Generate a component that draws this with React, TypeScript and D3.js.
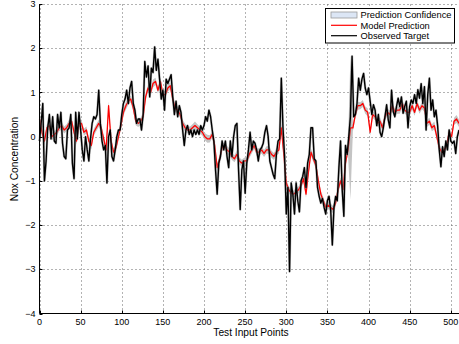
import React from 'react';
import * as d3 from 'd3';

const W = 459;
const H = 344;

const xTicks = [0, 50, 100, 150, 200, 250, 300, 350, 400, 450, 500];
const yTicks = [-4, -3, -2, -1, 0, 1, 2, 3];
const xTitle = 'Test Input Points';
const yTitle = 'Nox Concentration';
const legendLabels = ['Prediction Confidence', 'Model Prediction', 'Observed Target'];

// Observed target, sampled every 2 test points (0..510)
const OBS_STEP = 2;
const observed = [
  -0.1, 0.3, 0.75, -1.0, -0.55, 0.2, 0.5, -0.05, 0.45, -0.1,
  -0.15, 0.5, 0.2, 0.55, -0.15, -0.45, -0.5, 0.15, 0.2, 0.5,
  -0.6, -0.95, 0.55, -0.05, 0.55, 0.15, -0.3, -0.55, 0.0, -0.3,
  -0.55, -0.05, 0.3, 0.45, 0.4, 0.5, 1.05, 0.3, -0.1, -0.3,
  -0.2, -1.05, 0.0, 0.15, -0.45, -0.55, -0.3, 0.0, 0.15, 0.15,
  0.5, 0.75, 0.85, 1.05, 0.75, 1.1, 1.25, 0.75, 0.6, 0.3,
  0.4, 0.4, 0.15, 0.5, 1.7, 1.35, 1.6, 0.9, 1.55, 1.45,
  2.03, 1.5, 1.75, 1.3, 0.85, 1.05, 0.6, 1.3, 1.2, 1.3,
  1.4, 0.9, 0.5, 0.8, 0.45, 0.7, 0.55, 0.15, -0.2, 0.15,
  0.25, 0.05, 0.15, 0.0, 0.15, 0.05, 0.15, 0.05, 0.25, 0.15,
  0.25, 0.45, 0.35, 0.6, 0.45, 0.15, -0.1, -0.75, -1.3, -0.6,
  -0.45, -0.1, -0.3, -0.1, -0.45, -0.7, -0.1, -0.45, 0.0, 0.25,
  0.3, -0.75, -1.65, -0.75, -0.55, -1.28, -0.6, -0.3, 0.1, -0.3,
  -0.1, -0.15, -0.3, -0.55, -0.3, -0.25, -0.15, 0.1, 0.25, 0.0,
  -0.55, -0.7, -0.85, -0.95, -0.4, -0.1, -0.05, 1.32, 0.2, -0.45,
  -1.75, -1.15, -3.05, -1.05, -1.3, -1.75, -1.05, -1.45, -1.7, -1.0,
  -0.9, -0.7, -1.15, -0.6, -0.4, 0.2, 0.2, -0.5, -0.55, -1.15,
  -1.35, -1.5, -1.4, -1.6, -1.75, -1.45, -1.35, -1.65, -2.45, -1.6,
  -1.35, -1.45, -0.7, -0.1, -1.2, -1.8, -0.2, -0.4, 0.0, 0.45,
  1.82, 0.45, 0.5, 0.75, 1.32, 1.05, 1.3, 1.43, 1.1, 0.95,
  1.1, 0.8, 0.5, 0.72, 0.6, 0.25, 0.5, 0.1, 0.0, 0.2,
  0.45, 0.72, 0.38, 0.2, 1.05, 0.57, 0.45, 0.68, 0.87, 0.68,
  0.9, 0.53, 0.68, 0.8, 0.2, 0.68, 0.83, 0.75, 0.95, 0.75,
  1.06, 0.87, 1.2, 0.75, 1.13, 0.15, 0.95, 1.32, 0.6, 0.83,
  0.45, 0.6, 0.25, -0.3, -0.68, -0.23, -0.45, -0.1, -0.3, 0.15,
  -0.1, -0.15, -0.1, -0.38, 0.0, 0.15,
];

// Model prediction, sampled every 3 test points (0..510)
const PRED_STEP = 3;
const predicted = [
  0.4, 0.1, -0.1, 0.2, 0.25, 0.0, 0.05, 0.1, 0.2, 0.25,
  0.15, 0.2, 0.3, 0.35, 0.1, -0.1, 0.3, 0.3, 0.1, 0.15,
  -0.1, -0.2, 0.1, 0.2, 0.3, 0.2, -0.05, -0.3, 0.7, -0.1,
  -0.35, -0.25, 0.0, 0.25, 0.55, 0.7, 0.8, 0.85, 0.65, 0.35,
  0.3, 0.35, 0.45, 0.9, 1.1, 1.0, 1.2, 1.25, 1.05, 1.25,
  0.95, 0.95, 1.1, 1.15, 0.85, 0.65, 0.6, 0.5, 0.3, 0.2,
  0.15, 0.15, 0.2, 0.25, 0.2, 0.15, 0.1, 0.0, -0.05, -0.05,
  0.05, -0.2, -0.7, -0.5, -0.25, -0.2, -0.3, -0.35, -0.45, -0.5,
  -0.4, -0.55, -0.6, -0.55, -0.55, -0.4, -0.3, -0.2, -0.35, -0.35,
  -0.3, -0.38, -0.3, -0.3, -0.4, -0.45, -0.35, -0.3, 0.2, -0.4,
  -1.05, -1.2, -1.28, -1.3, -1.25, -1.2, -1.1, -0.95, -1.3, -0.8,
  -0.35, -0.5, -0.65, -1.0, -1.3, -1.45, -1.6, -1.55, -1.6, -1.65,
  -1.5, -1.2, -1.0, -1.2, -0.6, -0.3, 0.2, 0.2, 0.5, 0.7,
  0.7, 0.75, 0.6, 0.55, 0.1, 0.5, 0.45, 0.3, 0.35, 0.2,
  0.45, 0.55, 0.5, 0.7, 0.55, 0.6, 0.6, 0.75, 0.6, 0.55,
  0.55, 0.7, 0.55, 0.75, 0.6, 0.7, 0.65, 0.3, 0.35, 0.2,
  0.25, 0.0, -0.25, -0.35, -0.3, -0.2, 0.1, 0.0, 0.35, 0.4,
  0.3,
];

// Half-width of the prediction confidence band, same sampling as predicted
const confidence = [
  0.08, 0.08, 0.09, 0.08, 0.08, 0.09, 0.08, 0.08, 0.08, 0.09,
  0.08, 0.08, 0.08, 0.09, 0.08, 0.08, 0.08, 0.09, 0.08, 0.08,
  0.08, 0.09, 0.08, 0.08, 0.08, 0.08, 0.09, 0.08, 0.1, 0.08,
  0.08, 0.08, 0.09, 0.08, 0.08, 0.09, 0.08, 0.08, 0.08, 0.09,
  0.08, 0.08, 0.09, 0.08, 0.08, 0.08, 0.09, 0.08, 0.08, 0.08,
  0.09, 0.08, 0.08, 0.08, 0.09, 0.08, 0.08, 0.08, 0.08, 0.09,
  0.08, 0.08, 0.08, 0.09, 0.08, 0.08, 0.08, 0.08, 0.09, 0.08,
  0.08, 0.08, 0.09, 0.08, 0.08, 0.08, 0.09, 0.08, 0.08, 0.08,
  0.09, 0.08, 0.08, 0.08, 0.08, 0.09, 0.08, 0.08, 0.08, 0.09,
  0.08, 0.08, 0.08, 0.09, 0.08, 0.08, 0.08, 0.08, 0.1, 0.08,
  0.09, 0.08, 0.08, 0.08, 0.09, 0.08, 0.08, 0.08, 0.08, 0.09,
  0.08, 0.08, 0.08, 0.09, 0.08, 0.08, 0.08, 0.09, 0.08, 0.08,
  0.08, 0.09, 0.08, 0.08, 0.08, 0.09, 1.63, 0.08, 0.08, 0.09,
  0.08, 0.08, 0.08, 0.09, 0.08, 0.08, 0.08, 0.08, 0.09, 0.08,
  0.08, 0.08, 0.09, 0.08, 0.08, 0.08, 0.08, 0.09, 0.08, 0.08,
  0.08, 0.09, 0.08, 0.08, 0.08, 0.08, 0.09, 0.08, 0.08, 0.08,
  0.09, 0.08, 0.08, 0.08, 0.08, 0.09, 0.08, 0.08, 0.08, 0.09,
  0.08,
];

const FONT = '"Liberation Sans", Arial, Helvetica, sans-serif';

export default function App() {
  const x = d3.scaleLinear().domain([0, 510]).range([39.5, 459]);
  const y = d3.scaleLinear().domain([-4, 3]).range([313.5, 4]);

  const obsLine = d3
    .line<number>()
    .x((_, i) => x(i * OBS_STEP))
    .y((d) => y(d));
  const predLine = d3
    .line<number>()
    .x((_, i) => x(i * PRED_STEP))
    .y((d) => y(d));
  const band = d3
    .area<number>()
    .x((_, i) => x(i * PRED_STEP))
    .y0((d, i) => y(d - confidence[i]))
    .y1((d, i) => y(d + confidence[i]));

  const x0 = x(0);
  const yBottom = y(-4);
  const xRight = x(510);

  const legX = 325.5;
  const legY = 8.5;
  const legW = 129;
  const legH = 34.5;
  const rows = [15, 25.3, 35.7];

  return (
    <svg
      width={W}
      height={H}
      viewBox={`0 0 ${W} ${H}`}
      style={{ position: 'absolute', left: 0, top: 0, background: '#fff' }}
      fontFamily={FONT}
    >
      <rect x={0} y={0} width={W} height={H} fill="#fff" />
      {/* grid */}
      <g stroke="#666" strokeWidth={1} strokeDasharray="1,3">
        {xTicks.map((t) => (
          <line key={'gx' + t} x1={Math.round(x(t)) + 0.5} x2={Math.round(x(t)) + 0.5} y1={yBottom} y2={y(3)} />
        ))}
        {yTicks.map((t) => (
          <line key={'gy' + t} x1={x0} x2={xRight} y1={Math.round(y(t)) + 0.5 - (t === -4 ? 1 : 0)} y2={Math.round(y(t)) + 0.5 - (t === -4 ? 1 : 0)} />
        ))}
      </g>
      {/* confidence band */}
      <path d={band(predicted) || ''} fill="#c4c4c4" stroke="none" />
      {/* prediction */}
      <path d={predLine(predicted) || ''} fill="none" stroke="#ff0000" strokeWidth={1.3} strokeLinejoin="round" />
      {/* observed */}
      <path d={obsLine(observed) || ''} fill="none" stroke="#888" strokeOpacity={0.5} strokeWidth={2.4} strokeLinejoin="round" />
      <path d={obsLine(observed) || ''} fill="none" stroke="#000" strokeWidth={1.4} strokeLinejoin="round" />
      {/* axes */}
      <line x1={x0} x2={x0} y1={y(3)} y2={yBottom} stroke="#000" strokeWidth={1} />
      <line x1={x0} x2={xRight} y1={yBottom} y2={yBottom} stroke="#000" strokeWidth={1} />
      {xTicks.map((t) => (
        <g key={'tx' + t}>
          <line x1={Math.round(x(t)) + 0.5} x2={Math.round(x(t)) + 0.5} y1={yBottom} y2={yBottom - 3} stroke="#000" />
          <text x={x(t)} y={325} fontSize={9} textAnchor="middle" fill="#000">
            {t}
          </text>
        </g>
      ))}
      {yTicks.map((t) => (
        <g key={'ty' + t}>
          <line x1={x0} x2={x0 + 3} y1={Math.round(y(t)) + 0.5} y2={Math.round(y(t)) + 0.5} stroke="#000" />
          <text x={35.5} y={y(t) + 3.2} fontSize={9} textAnchor="end" fill="#000">
            {t < 0 ? '\u2212' + Math.abs(t) : String(t)}
          </text>
        </g>
      ))}
      <text x={251} y={336} fontSize={10.2} textAnchor="middle" fill="#000">
        {xTitle}
      </text>
      <text transform="translate(17.5,159) rotate(-90)" fontSize={10.2} textAnchor="middle" fill="#000">
        {yTitle}
      </text>
      {/* legend */}
      <rect x={legX} y={legY} width={legW} height={legH} fill="#fff" stroke="#000" strokeWidth={1} />
      <rect x={331} y={12} width={26} height={6} fill="#dce6f5" stroke="#999" strokeWidth={0.8} />
      <line x1={331} x2={357} y1={rows[1]} y2={rows[1]} stroke="#ff0000" strokeWidth={1.2} />
      <line x1={331} x2={357} y1={rows[2]} y2={rows[2]} stroke="#000" strokeWidth={1.2} />
      {legendLabels.map((l, i) => (
        <text key={l} x={360.5} y={rows[i] + 3.3} fontSize={9.3} fill="#000">
          {l}
        </text>
      ))}
    </svg>
  );
}
